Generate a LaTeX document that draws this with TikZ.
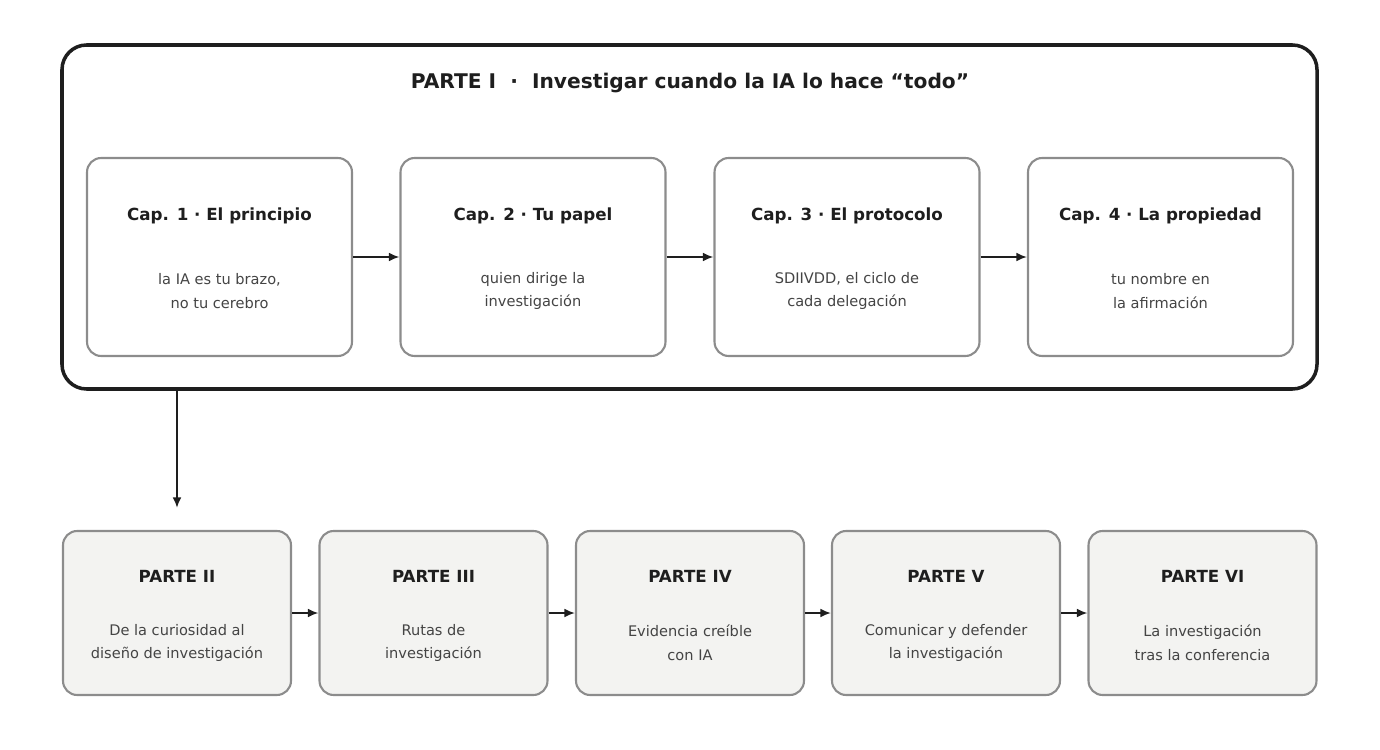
\documentclass[tikz,border=0pt]{standalone}
\usepackage{fontspec}
\setmainfont{DejaVu Sans}
\usetikzlibrary{positioning,arrows.meta}
\definecolor{boxline}{HTML}{8C8C8C}
\definecolor{ink}{HTML}{1E1E1E}
\definecolor{soft}{HTML}{444444}
\definecolor{parte}{HTML}{F3F3F1}
\tikzset{
  chapbox/.style={draw=boxline,line width=1.2pt,rounded corners=8pt,fill=white,minimum width=5.3cm,minimum height=3.96cm},
  partbox/.style={draw=boxline,line width=1.2pt,rounded corners=8pt,fill=parte,minimum width=4.56cm,minimum height=3.28cm},
  head/.style={font=\bfseries\fontsize{9.5}{11}\selectfont,text=ink},
  sub/.style={font=\fontsize{8.3}{13.5}\selectfont,text=soft,align=center},
  link/.style={-{Latex[length=6pt,width=5pt]},line width=1pt,draw=ink}
}
\begin{document}
\begin{tikzpicture}[x=0.02cm,y=-0.02cm]
  \useasboundingbox (0,0) rectangle (1380,750);
  % frame of part I
  \draw[ink,line width=2pt,rounded corners=14pt] (62,45) rectangle (1317,389);
  \node[font=\bfseries\fontsize{11.5}{13}\selectfont,text=ink] (title) at (690,83) {PARTE I~~·~~Investigar cuando la IA lo hace “todo”};
  \coordinate (out) at (177,389);
  % chapters
  \node[chapbox] (c1) at (219.5,257) {};
  \node[chapbox] (c2) at (533,257) {};
  \node[chapbox] (c3) at (847,257) {};
  \node[chapbox] (c4) at (1160.5,257) {};
  \node[head] (h1) at (219.5,216) {Cap. 1 · El principio};
  \node[head] (h2) at (533,216) {Cap. 2 · Tu papel};
  \node[head] (h3) at (847,216) {Cap. 3 · El protocolo};
  \node[head] (h4) at (1160.5,216) {Cap. 4 · La propiedad};
  \node[sub] (s1) at (219.5,291) {la IA es tu brazo,\\no tu cerebro};
  \node[sub] (s2) at (533,291) {quien dirige la\\investigación};
  \node[sub] (s3) at (847,291) {SDIIVDD, el ciclo de\\cada delegación};
  \node[sub] (s4) at (1160.5,291) {tu nombre en\\la afirmación};
  \foreach \a/\b in {c1/c2,c2/c3,c3/c4}
    \draw[link] (\a) -- (\b);
  % parts
  \node[partbox] (p2) at (177,613) {};
  \node[partbox] (p3) at (433.5,613) {};
  \node[partbox] (p4) at (690,613) {};
  \node[partbox] (p5) at (946,613) {};
  \node[partbox] (p6) at (1202.5,613) {};
  \node[head] (t2) at (177,576) {PARTE II};
  \node[head] (t3) at (433.5,576) {PARTE III};
  \node[head] (t4) at (690,576) {PARTE IV};
  \node[head] (t5) at (946,576) {PARTE V};
  \node[head] (t6) at (1202.5,576) {PARTE VI};
  \node[sub] (d2) at (177,643) {De la curiosidad al\\diseño de investigación};
  \node[sub] (d3) at (433.5,643) {Rutas de\\investigación};
  \node[sub] (d4) at (690,643) {Evidencia creíble\\con IA};
  \node[sub] (d5) at (946,643) {Comunicar y defender\\la investigación};
  \node[sub] (d6) at (1202.5,643) {La investigación\\tras la conferencia};
  \foreach \a/\b in {p2/p3,p3/p4,p4/p5,p5/p6}
    \draw[link] (\a) -- (\b);
  \draw[link] (out) -- ([yshift=0.44cm]p2.north);
\end{tikzpicture}
\end{document}
